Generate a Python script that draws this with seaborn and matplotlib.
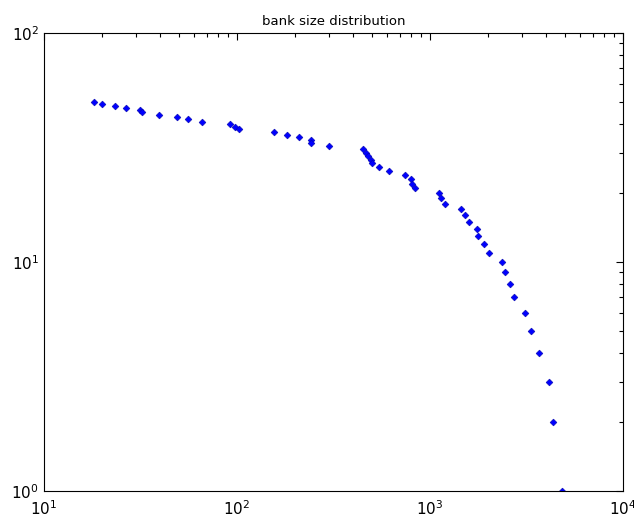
import matplotlib
matplotlib.use("Agg")
import matplotlib.pyplot as plt
import seaborn as sns
import numpy as np
import pandas as pd

# bank size (x) vs rank (y)
bank_size = [18.2, 19.9, 23.2, 26.5, 31.4, 32.3, 39.4, 49.1, 55.7, 65.6,
             92, 97.7, 102.8, 155.5, 181, 209, 242, 242, 298.6, 451,
             466, 479, 493, 499, 546, 611, 739, 797, 809, 836,
             1117, 1140, 1196, 1443, 1518, 1592, 1753, 1779, 1897, 2022,
             2360, 2447, 2607, 2723, 3095, 3350, 3684, 4137, 4323, 4850]
rank = list(range(50, 0, -1))

df = pd.DataFrame({"size": bank_size, "rank": rank})

sns.set_style("white")
plt.rcParams['font.family'] = ['DejaVu Sans']

fig = plt.figure(figsize=(6.34, 5.23), dpi=100)
ax = fig.add_axes([44/634, 1-491/523, (623-44)/634, (491-33)/523])

sns.scatterplot(data=df, x="size", y="rank", ax=ax, marker="D", s=12,
                color="#0000ff", edgecolor="#0000aa", linewidth=0.4)
ax.set_xscale("log")
ax.set_yscale("log")
ax.set_xlim(10, 1e4)
ax.set_ylim(1, 100)
ax.set_xlabel("")
ax.set_ylabel("")
ax.set_title("bank size distribution", fontsize=9.5, pad=6, color="black")

for s in ax.spines.values():
    s.set_visible(True)
    s.set_color("black")
    s.set_linewidth(0.8)

ax.tick_params(which="both", direction="in", top=True, right=True, colors="black",
               labelsize=11)
ax.tick_params(which="major", length=5, width=0.8)
ax.tick_params(which="minor", length=3, width=0.8)
ax.tick_params(axis="x", pad=6)

plt.savefig("out.png", dpi=100)
